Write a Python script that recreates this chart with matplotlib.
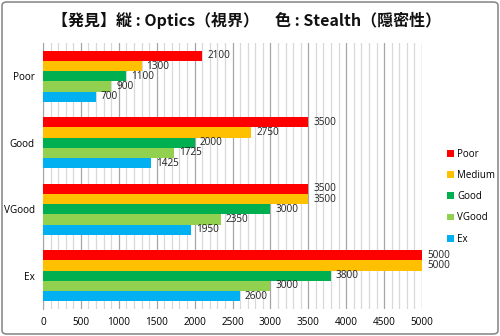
import matplotlib

matplotlib.use("Agg")

import matplotlib.pyplot as plt
import numpy as np
from matplotlib.patches import FancyBboxPatch
from matplotlib.ticker import MultipleLocator

plt.rcParams["font.family"] = ["Noto Sans CJK JP", "DejaVu Sans"]

TITLE = "【発見】縦 : Optics（視界）　色 : Stealth（隠密性）"
categories = ["Poor", "Good", "VGood", "Ex"]
series = ["Poor", "Medium", "Good", "VGood", "Ex"]
values = {
    "Poor": [2100, 3500, 3500, 5000],
    "Medium": [1300, 2750, 3500, 5000],
    "Good": [1100, 2000, 3000, 3800],
    "VGood": [900, 1725, 2350, 3000],
    "Ex": [700, 1425, 1950, 2600],
}
colors = ["#FF0000", "#FFC000", "#00B050", "#92D050", "#00B0F0"]
x_ticks = [0, 500, 1000, 1500, 2000, 2500, 3000, 3500, 4000, 4500, 5000]

LABEL_FONT = ["Open Sans", "DejaVu Sans"]

fig = plt.figure(figsize=(5.0, 3.36), dpi=100)
fig.patch.set_facecolor("white")
fig.patches.append(FancyBboxPatch(
    (0.004, 0.006), 0.992, 0.988, boxstyle="round,pad=0,rounding_size=0.01",
    transform=fig.transFigure, facecolor="none", edgecolor="#8c8c8c",
    linewidth=1.2))

ax = fig.add_axes([43 / 500, 1 - 309 / 336, 379 / 500, 266 / 336])

n = len(series)
group = 0.767
h = group / n
y_base = np.arange(len(categories))
for i, (name, col) in enumerate(zip(series, colors)):
    ys = y_base - group / 2 + h * (i + 0.5)
    ax.barh(ys, values[name], height=h, color=col, label=name, zorder=3)
    for y, v in zip(ys, values[name]):
        ax.text(v + 65, y, str(v), ha="left", va="center", fontsize=7.2,
                color="#222222", zorder=4, family=LABEL_FONT)

ax.set_xlim(0, 5000)
ax.set_ylim(len(categories) - 0.5, -0.5)
ax.set_yticks(y_base)
ax.set_yticklabels(categories, fontsize=7.2, family=LABEL_FONT)
ax.set_xticks(x_ticks)
ax.set_xticklabels([str(t) for t in x_ticks], fontsize=7.2, family=LABEL_FONT)
ax.xaxis.set_minor_locator(MultipleLocator(100))
ax.grid(axis="x", which="major", color="#a6a6a6", linewidth=0.9, zorder=0)
ax.grid(axis="x", which="minor", color="#d9d9d9", linewidth=0.9, zorder=0)
ax.tick_params(axis="both", which="both", length=0, pad=6)
for side in ["top", "right", "bottom"]:
    ax.spines[side].set_visible(False)
ax.spines["left"].set_color("#a6a6a6")

ax.legend(loc="upper left", bbox_to_anchor=(438 / 500, 1 - 140 / 336),
          bbox_transform=fig.transFigure, frameon=False,
          handlelength=0.7, handleheight=0.7, handletextpad=0.4,
          labelspacing=1.05, prop={"family": LABEL_FONT, "size": 7})

fig.text(0.494, 1 - 20 / 336, TITLE, ha="center", va="center", fontsize=11.5,
         fontweight="bold", color="#111111")

fig.savefig("out.png", dpi=100, facecolor="white")
